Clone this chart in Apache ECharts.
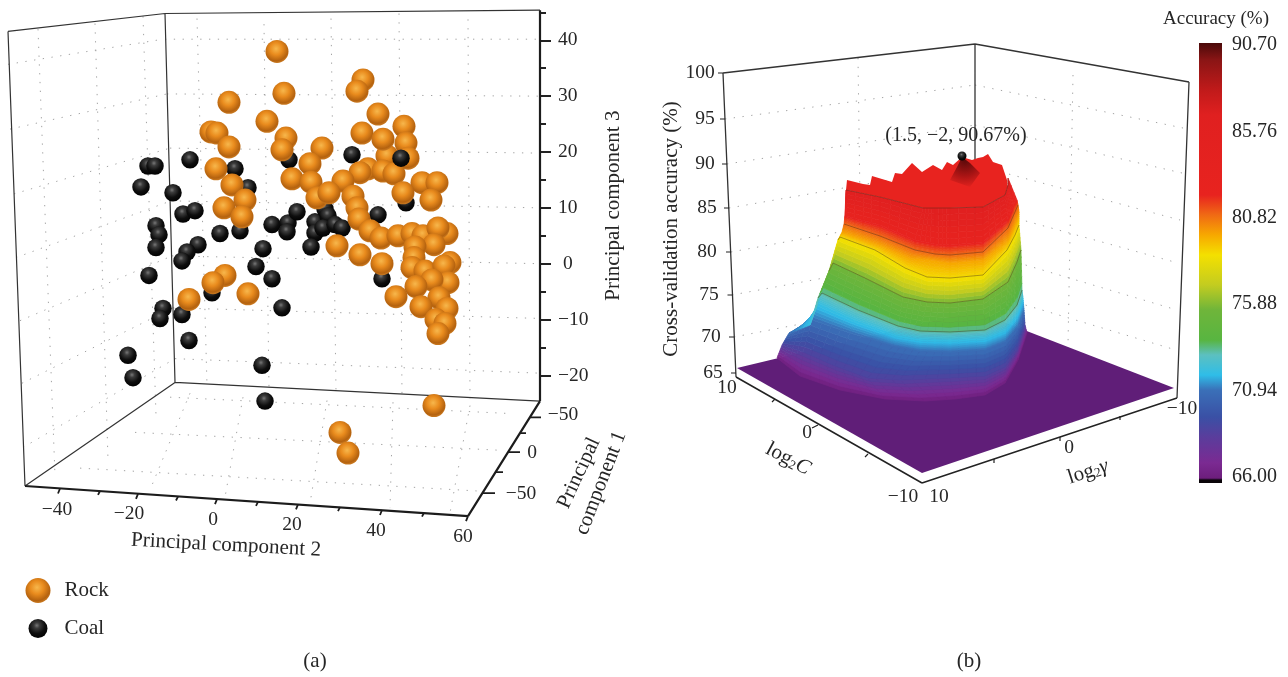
<!DOCTYPE html>
<html><head><meta charset="utf-8">
<style>html,body{margin:0;padding:0;background:#fff}#c{width:1288px;height:677px}</style>
<script src="https://cdn.jsdelivr.net/npm/echarts@6/dist/echarts.min.js"></script>
</head><body><div id="c"></div>
<script>
// ---------- panel (a): projected positions, x in PC2 units on the front edge, y in PC3 units
const rock = [[15,38],[16.75,30.5],[3,28.9],[12.5,25.5],[-1.5,23.6],[0,23.4],[3,20.9],[17.25,22.5],[16.25,20.4],[-0.25,17],[3.75,14.1],[18.75,15.2],[7,11.4],[1.75,10],[6.25,8.4],[2,-2.1],[-1,-3.4],[7.75,-5.4],[-7,-6.4],[26.25,20.7],[23.25,17.9],[23.5,14.6],[36.5,32.9],[35,30.9],[40.25,26.8],[36.25,23.4],[46.75,24.6],[47.25,21.6],[47.75,18.9],[42.5,19.3],[41.5,22.3],[37.75,17],[35.75,16.3],[31.5,14.8],[41.5,16.6],[44.25,16.1],[51.25,14.5],[55,14.5],[53.5,11.4],[46.5,12.7],[25,11.8],[28,12.7],[34,12.1],[35,10],[35.5,8],[38.25,5.9],[41,4.6],[45.25,5],[48.75,5.4],[51.5,5],[58.25,0.2],[57.5,5.4],[55.25,6.4],[54.25,3.4],[49.5,3],[49.25,1.1],[48.75,-0.7],[30,3.2],[35.75,1.6],[41.25,0],[52,-1.3],[56.75,-0.4],[57.75,-3.4],[53.75,-2.9],[49.75,-4.1],[44.75,-5.9],[55.5,-6.1],[51,-7.7],[57.5,-8],[54.75,-10],[57,-10.7],[55.25,-12.5],[54.25,-25.4],[30.75,-30.2],[32.75,-33.9]];
const coal = [[-17.25,17.5],[-15.5,17.5],[-6.75,18.6],[4.5,17],[7.75,13.6],[-19,13.75],[-11,12.7],[-8.5,8.9],[-5.5,9.5],[-15.25,6.8],[-14.5,5.2],[-15.25,2.9],[-4.75,3.4],[-7.5,2.1],[-8.75,0.5],[0.75,5.4],[5.75,5.9],[13.75,7],[17.75,7.3],[17.5,5.7],[20,9.3],[24.5,7.5],[24.5,5.5],[23.5,3],[11.5,2.7],[9.75,-0.5],[13.75,-2.7],[-1.25,-5.2],[-17,-2.1],[16.25,-7.9],[-13.5,-8],[-14.25,-9.8],[-8.75,-9.1],[18,18.6],[-7,-13.75],[-22.25,-16.4],[-21,-20.4],[11.25,-18.2],[12,-24.6],[33.75,19.5],[40.25,8.75],[47.25,10.9],[41.25,-2.7],[27,9.8],[27.75,8.6],[26.5,6.4],[29.5,7],[31.25,6.4]];
const coalFront = [[46,18.9]];

const pc3Ticks = [-20,-10,0,10,20,30,40];
const pc3MinorTicks = [-15,-5,5,15,25,35,45];
const pc2TickLabels = ['−40','−20','0','20','40','60'];
const pc2LabelAnchors = [[-40,-44.1],[-22,-44.8],[-1,-45.9],[18.75,-46.8],[39.75,-47.9],[61.5,-48.9]];
const pc1TickLabels = ['−50','0','−50'];
const pc1LabelAnchors = [[86.5,-27.1],[78.75,-33.9],[76,-41.25]];

const aFrameThin = [[[-52.25,41.6],[-13,44.8]],[[-13,44.8],[80.75,45.4]],[[-52.25,41.6],[-48,-39.8]],[[-13,44.8],[-10.5,-21.25]],[[-10.5,-21.25],[80.75,-24.6]],[[-10.5,-21.25],[-48,-39.8]]];
const aFrameThick = [[[-48,-39.8],[62.75,-45.2]],[[62.75,-45.2],[80.75,-24.6]],[[80.75,-24.6],[80.75,45.4]]];
const aFloorTicks = [[[-39.25,-40.25],[-39.75,-41.15]],[[-29.25,-40.7],[-29.75,-41.4]],[[-19.75,-41.2],[-20.25,-42.1]],[[-9.75,-41.7],[-10.25,-42.4]],[[0,-42.15],[-0.5,-43.05]],[[10.25,-42.65],[9.75,-43.35]],[[20.25,-43.1],[19.75,-44]],[[30.75,-43.6],[30.25,-44.3]],[[41.25,-44.1],[40.75,-45]],[[51.75,-44.6],[51.25,-45.3]],[[62.75,-45.2],[62.25,-46.1]],
 [[66.35,-41.07],[69.5,-41.07]],[[69.6,-37.3],[71.5,-37.3]],[[72.75,-33.75],[75.75,-33.75]],[[75.75,-30.35],[77.25,-30.35]],[[78.25,-27.5],[81,-27.5]]];
const aGrid = [
 [[-13,40.2],[80.75,40.2]],[[-12.5,30.4],[80.75,30]],[[-11.75,20.7],[80.75,19.8]],[[-11.5,11.25],[80.75,10]],[[-11.25,1.4],[80.75,0]],[[-11,-7.9],[80.75,-9.8]],[[-10.5,-17],[80.75,-19.6]],
 [[-5,43.9],[-2.5,-21.8]],[[11.75,42.9],[13,-22.3]],[[28.5,43.9],[29.75,-22.9]],[[45.5,44.8],[46.25,-23.6]],[[62.75,43.75],[63.25,-24.1]],
 [[-44.75,42],[-40.5,-37.9]],[[-30.5,43],[-27.25,-35.2]],[[-18.5,44.3],[-15.25,-27.1]],
 [[-52.25,35.7],[-13.5,40.2]],[[-51.75,24.1],[-12.5,30.4]],[[-50.75,12.5],[-11.75,20.7]],[[-50.25,1.1],[-11.5,11.25]],[[-49.25,-10.2],[-11.25,1.4]],[[-48.75,-21.4],[-11,-7.9]],[[-48.5,-32.9],[-10.5,-17]],
 [[-11.75,-23.9],[72.5,-26.8]],[[-20.5,-30.2],[70.75,-33.4]],[[-34.25,-36.6],[65.25,-40.7]],
 [[-6.75,-23.2],[-16.75,-40.5]],[[6.5,-23.9],[2,-41.8]],[[27.5,-24.5],[23.25,-42.9]],[[44,-24.8],[43.25,-43.75]],[[63.25,-25.4],[58.25,-44.6]]
];

// ---------- panel (b): projected scene units
const accTickLabels = ['100','95','90','85','80','75','70','65'];
const accLabelAnchors = [[-3.6,41],[-3.1,36.4],[-3.1,31.9],[-2.9,27.5],[-2.9,23.1],[-2.7,18.8],[-2.5,14.6],[-2.3,11]];
const floorTickLabels = ['10','0','−10','10','0','−10'];
const floorLabelAnchors = [[-0.9,9.5],[7.1,5],[16.7,-1.4],[20.3,-1.4],[33.3,3.5],[44.6,7.4]];
const bFrame = [[[-1.3,41],[23.9,43.9]],[[23.9,43.9],[45.3,40.1]],[[-1.3,41],[0,10.6]],[[45.3,40.1],[44.1,8.5]],[[23.9,43.9],[23.9,17.2]]];
const bFloorAxes = [[[0,10.6],[18.6,0]],[[18.6,0],[44.1,8.5]]];
const bTicks = [[[-1.8,41],[-1.3,41]],[[-1.6,36.4],[-1.1,36.4]],[[-1.4,31.9],[-0.9,31.9]],[[-1.2,27.5],[-0.7,27.5]],[[-1,23.1],[-0.5,23.1]],[[-0.85,18.8],[-0.35,18.8]],[[-0.7,14.6],[-0.2,14.6]],[[-0.5,11],[0,11]],
 [[8.2,5.8],[7.6,5.5]],[[3.9,8.4],[3.6,8.1]],[[13.2,2.9],[12.9,2.6]],[[32.4,4.6],[32.4,4.2]],[[25.8,2.4],[25.8,2]],[[38.4,6.7],[38.4,6.3]]];
const bGrid = [
 [[-1.1,36.4],[23.9,39.8]],[[-0.9,31.9],[23.9,35.8]],[[-0.7,27.5],[23.9,31.8]],[[-0.5,23.1],[23.9,27.6]],[[-0.4,18.8],[23.9,23.3]],[[-0.2,14.6],[23.9,19.3]],[[12.2,42.5],[12.6,13.8]],
 [[23.9,39.8],[44.7,35.5]],[[23.9,35.8],[44.6,31]],[[23.9,31.8],[44.4,26.3]],[[23.9,27.6],[44.2,22]],[[23.9,23.3],[44.1,17.3]],[[23.9,19.3],[44,13.3]],[[33.7,40.8],[33.2,13.8]]
];
const floorOutline = [[0.1,11.5],[23.9,17.2],[43.8,9.5],[18.6,1]];

// accuracy of each isoline, and where that isoline falls on the projected surface
const surfaceLevels = [66,68.6,70.9,72.06,73.2,75.7,78.8,79.9,81,82.2,86.7];
const surfaceIsolines = [
 [[4.1,12.5],[6.4,10.7],[10.4,9.3],[14.9,8.4],[18.9,8.2],[21.9,8.4],[24.9,8.8],[26.9,10],[28.2,12.3],[29.1,15]],
 [[4.6,13.8],[6.7,13.1],[9.9,11.7],[13.2,10.5],[16.4,10.3],[21.4,10.5],[24.9,10.7],[26.9,11.6],[28.1,13.3],[28.9,15.8]],
 [[5.3,15],[7.6,16.3],[11.4,15],[15.7,13.7],[18.4,13.2],[21.4,13.1],[24.9,13.3],[26.9,14.1],[28.1,15.5],[28.8,17.3]],
 [[7.4,15.8],[8.2,18],[11.9,16.3],[16.1,14.8],[18.4,14.4],[21.4,14.3],[24.9,14.5],[26.9,15.3],[28.1,16.8],[28.7,18.5]],
 [[8.2,18.5],[8.6,19],[12.2,17.3],[16.2,15.7],[18.4,15.2],[21.4,15.1],[24.9,15.3],[26.9,16.3],[28.1,17.8],[28.6,19.3]],
 [[9.3,21.2],[9.7,22],[12.9,20.5],[16.7,18.6],[19.1,18.1],[21.4,18],[24.7,18.4],[27.2,20.1],[28.1,22.1],[28.5,23.3]],
 [[10.2,24.3],[10.4,24.6],[13.9,23.3],[16.9,21.5],[19.1,20.6],[21.4,20.5],[24.7,20.8],[27.1,23.3],[27.9,24.8],[28.3,25.8]],
 [[10.6,25.1],[10.9,25],[14.4,23.8],[17.4,22.5],[19.4,22.3],[21.4,22],[24.7,22.3],[27.2,24.3],[28,26.1],[28.3,27.1]],
 [[10.8,25.9],[11,25.9],[14.4,24.7],[17.9,23.3],[19.9,22.9],[21.4,22.8],[24.7,23.1],[27.2,25.5],[27.9,27.1],[28.2,27.8]],
 [[10.9,26.8],[11,26.7],[14.4,25.8],[17.9,24.3],[19.9,23.9],[21.4,23.8],[24.7,24.1],[27.2,26.3],[27.8,27.8],[28.1,28.3]],
 [[11,29.3],[11.1,29.3],[14.4,28.6],[18.7,27.5],[19.9,27.5],[21.4,27.5],[24.7,27.6],[26.9,28.8],[27.2,29.8],[27.2,30.5]]
];
const contourRows = [4,5,6,8,10];
const crest = [[11.1,30.3],[12.7,29.9],[13.4,29.8],[13.6,30.7],[15.6,30.1],[15.9,31],[16.6,30.9],[17.6,32],[18.6,31.1],[19.7,31.8],[20.6,31.3],[21.1,32.1],[21.7,31.8],[22.6,32.6],[23.6,32.3],[24.2,32.5],[24.7,32.6],[25.2,32.9],[25.7,32.1],[26.6,31.8],[27.1,30.3],[27.2,28.3]];
const peakCap = [[22.6,32.6],[23.4,32],[24.4,31],[23.4,29.6],[21.4,30.3],[22.1,31.6]];
const peakPoint = [[22.6,32.7]];
const peakLabel = '(1.5, −2, 90.67%)';

// colour bar
const colorValues = [65.66,65.83,65.94,66.8,68.29,69.43,70.97,71.83,72.98,73.83,75.55,76.98,78.69,79.84,80.98,82.12,86.7,88.13,89.84,90.81];
const colorHexes = ['#0a0509','#0a0509','#6d1e7c','#7b2a92','#5a3d9c','#3a50a5','#3a70b8','#2fbde8','#5cc0c0','#58b541','#6fb53a','#c3cc20','#f4e000','#f7a800','#f06a14','#e8231f','#e02020','#c01a1a','#8a1515','#4a0a0a'];
const barTicks = [66,70.94,75.88,80.82,85.76,90.7];

// ---------- helpers
const FONT = '"Liberation Serif", serif', INK = '#262626';
const rgb = h => [1,3,5].map(i => parseInt(h.substr(i,2),16));
function colorAt(v){
  let k = 0; while(k < colorValues.length-2 && v > colorValues[k+1]) k++;
  const t = Math.min(1,Math.max(0,(v-colorValues[k])/(colorValues[k+1]-colorValues[k])));
  const a = rgb(colorHexes[k]), b = rgb(colorHexes[k+1]);
  return 'rgb('+a.map((c,i)=>Math.round(c+(b[i]-c)*t)).join(',')+')';
}
const segs = list => { const out=[]; list.forEach((s,i)=>{ if(i) out.push(null); s.forEach(p=>out.push(p)); }); return out; };
const sphere = (x,y,r,stops) => ({type:'radial',x,y,r,colorStops:stops.map(c=>({offset:c[0],color:c[1]}))});
const rockFill = sphere(0.46,0.38,0.64,[[0,'#f7b74c'],[0.42,'#e98b1d'],[0.82,'#b4620f'],[1,'#cf7f24']]);
const coalFill = sphere(0.44,0.34,0.68,[[0,'#777777'],[0.22,'#3c3c3c'],[0.62,'#0e0e0e'],[1,'#000000']]);

function lineSeries(data, gi, style){
  return {type:'line',data:segs(data),xAxisIndex:gi===0?0:1,yAxisIndex:gi===0?0:2,symbol:'none',silent:true,clip:false,connectNulls:false,lineStyle:style,z:style.z||2};
}
function textSeries(items, gi){
  return {type:'scatter',xAxisIndex:gi===0?0:1,yAxisIndex:gi===0?0:2,symbolSize:1,silent:true,clip:false,z:6,itemStyle:{color:'transparent',opacity:1},
    label:{show:true,position:'inside',align:'center',verticalAlign:'middle',color:INK,fontFamily:FONT},
    data:items.map(t=>({value:t.at,label:{formatter:t.text,fontSize:t.size,rotate:t.rotate||0,rich:t.rich}}))};
}
const zip = (labels,anchors,size) => labels.map((t,i)=>({text:t,at:anchors[i],size}));
const mix = (p,q,t) => [p[0]+(q[0]-p[0])*t,p[1]+(q[1]-p[1])*t];

function renderBand(params, api){
  const i = api.value(0), j = api.value(1), R = surfaceIsolines, N = 6, M = 4, kids = [];
  const lo = surfaceLevels[i], hi = surfaceLevels[i+1];
  const at = (a,b) => api.coord(mix(mix(R[i][j],R[i][j+1],b/M),mix(R[i+1][j],R[i+1][j+1],b/M),a/N));
  for(let a=0;a<N;a++){
    const c = colorAt(lo+(hi-lo)*(a+0.5)/N);
    for(let b=0;b<M;b++){
      kids.push({type:'polygon',shape:{points:[at(a,b),at(a,b+1),at(a+1,b+1),at(a+1,b)]},style:{fill:c,stroke:c,lineWidth:0.7}});
    }
  }
  return {type:'group',children:kids};
}
function polySeries(points, fill, z){
  return {type:'custom',xAxisIndex:1,yAxisIndex:2,silent:true,clip:false,z:z,data:[[0,0]],
    renderItem:(p,api)=>({type:'polygon',shape:{points:points.map(q=>api.coord(q))},style:{fill}})};
}
const bandCells = [];
for(let i=0;i<surfaceIsolines.length-1;i++) for(let j=0;j<surfaceIsolines[0].length-1;j++) bandCells.push([i,j]);

const barStops = colorValues.map((v,i)=>({offset:(90.81-v)/(90.81-65.66),color:colorHexes[i]})).reverse();
const captionStyle = {fontFamily:FONT,fontSize:21,fontWeight:'normal',color:INK};
const logRich = {n:{fontSize:21,fontFamily:FONT,color:INK},s:{fontSize:13,fontFamily:FONT,color:INK,verticalAlign:'bottom',padding:[7,0,0,0]},i:{fontSize:21,fontFamily:FONT,fontStyle:'italic',color:INK}};
const dots = {color:'#a3a3a3',width:1,type:[1.3,7.5]};

const option = {
  animation:false, backgroundColor:'#fff',
  textStyle:{fontFamily:FONT,color:INK},
  title:[
    {text:'(a)',left:315,top:651,textAlign:'center',padding:0,textStyle:captionStyle},
    {text:'(b)',left:969,top:651,textAlign:'center',padding:0,textStyle:captionStyle},
    {text:'Accuracy (%)',left:1216,top:10,textAlign:'center',padding:0,textStyle:{fontFamily:FONT,fontSize:19,fontWeight:'normal',color:INK}}
  ],
  legend:[
    {data:['Rock'],left:25.5,top:578,orient:'vertical',itemWidth:25,itemHeight:25,padding:0,selectedMode:false,icon:'circle',
     textStyle:{fontFamily:FONT,fontSize:21,color:INK,padding:[0,0,9,9]}},
    {data:['Coal'],left:28.5,top:618,orient:'vertical',itemWidth:19,itemHeight:19,padding:0,selectedMode:false,icon:'circle',
     textStyle:{fontFamily:FONT,fontSize:21,color:INK,padding:[0,0,9,12]}}
  ],
  grid:[
    {left:1,top:5.4,width:539,height:672},
    {left:636,top:33,width:560,height:550},
    {left:1199,top:43,width:23,height:440}
  ],
  xAxis:[
    {gridIndex:0,type:'value',min:-54,max:80.75,show:false},
    {gridIndex:1,type:'value',min:-10,max:46,show:false},
    {gridIndex:2,type:'category',data:['Accuracy'],show:false}
  ],
  yAxis:[
    {gridIndex:0,type:'value',min:-74,max:46.25,position:'right',splitLine:{show:false},axisLine:{show:false,onZero:false},
     axisTick:{show:true,customValues:pc3Ticks,length:11,lineStyle:{color:'#222',width:2}},
     axisLabel:{show:true,customValues:pc3Ticks,margin:18,fontFamily:FONT,fontSize:19.5,color:INK,
       formatter:v=>v<0?'−'+(-v):(v===0?'\u2005'+v:''+v)}},
    {gridIndex:0,type:'value',min:-74,max:46.25,position:'right',splitLine:{show:false},axisLine:{show:false,onZero:false},
     axisTick:{show:true,customValues:pc3MinorTicks,length:6,lineStyle:{color:'#222',width:2}},
     axisLabel:{show:false}},
    {gridIndex:1,type:'value',min:-10,max:45,show:false},
    {gridIndex:2,type:'value',min:65.66,max:90.81,position:'right',splitLine:{show:false},axisLine:{show:false,onZero:false},axisTick:{show:false},
     axisLabel:{show:true,customValues:barTicks,margin:10,fontFamily:FONT,fontSize:20,color:INK,formatter:v=>v.toFixed(2)}}
  ],
  series:[
    // panel (a)
    lineSeries(aGrid,0,dots),
    lineSeries(aFrameThin,0,{color:'#333',width:1.2}),
    lineSeries(aFrameThick,0,{color:'#1c1c1c',width:2.2}),
    lineSeries(aFloorTicks,0,{color:'#1c1c1c',width:1.8}),
    {name:'Coal',type:'scatter',data:coal,xAxisIndex:0,yAxisIndex:0,symbol:'circle',symbolSize:17.5,itemStyle:{color:coalFill,opacity:1},silent:true,z:3},
    {name:'Rock',type:'scatter',data:rock,xAxisIndex:0,yAxisIndex:0,symbol:'circle',symbolSize:23,itemStyle:{color:rockFill,opacity:1},silent:true,z:4},
    {name:'Coal',type:'scatter',data:coalFront,xAxisIndex:0,yAxisIndex:0,symbol:'circle',symbolSize:17.5,itemStyle:{color:coalFill,opacity:1},silent:true,z:5},
    textSeries(zip(pc2TickLabels,pc2LabelAnchors,19.5).concat(zip(pc1TickLabels,pc1LabelAnchors,19.5),[
      {text:'Principal component 2',at:[2.25,-50.4],size:21,rotate:-3},
      {text:'Principal component 3',at:[99,10.4],size:21,rotate:90},
      {text:'Principal',at:[90.5,-37.5],size:21,rotate:65},
      {text:'component 1',at:[96,-39.3],size:21,rotate:69}
    ]),0),
    // panel (b)
    lineSeries(bGrid,1,dots),
    lineSeries(bFrame,1,{color:'#333',width:1.3}),
    polySeries(floorOutline,'#601e78',3),
    {type:'custom',xAxisIndex:1,yAxisIndex:2,silent:true,clip:false,z:4,data:bandCells,encode:{x:0,y:1},renderItem:renderBand},
    polySeries(crest.concat(surfaceIsolines[10].slice().reverse()),'#e8231f',4),
    polySeries(peakCap,{type:'radial',x:0.5,y:0.1,r:0.95,colorStops:[{offset:0,color:'#5a0a0a'},{offset:0.55,color:'#a81414'},{offset:1,color:'#e8231f'}]},5),
    lineSeries(contourRows.map(r=>surfaceIsolines[r]),1,{color:'#3d2a1a',width:0.8,opacity:0.5,z:5}),
    lineSeries(bFloorAxes,1,{color:'#222',width:1.5,z:5}),
    lineSeries(bTicks,1,{color:'#222',width:1.2,z:5}),
    {type:'scatter',data:peakPoint,xAxisIndex:1,yAxisIndex:2,symbol:'circle',symbolSize:9,itemStyle:{color:coalFill,opacity:1},silent:true,z:6},
    textSeries(zip(accTickLabels,accLabelAnchors,19.5).concat(zip(floorTickLabels,floorLabelAnchors,19.5),[
      {text:'Cross-validation accuracy (%)',at:[-6.5,25.4],size:21,rotate:90},
      {text:peakLabel,at:[22,34.7],size:20},
      {text:'{n|log}{s|2}{i|C}',at:[5.2,2.4],size:21,rotate:-28,rich:logRich},
      {text:'{n|log}{s|2}{i|γ}',at:[35.2,1.1],size:21,rotate:18,rich:logRich}
    ]),1),
    // colour bar
    {type:'bar',data:[90.81],xAxisIndex:2,yAxisIndex:3,barWidth:'100%',silent:true,
     itemStyle:{color:{type:'linear',x:0,y:0,x2:0,y2:1,colorStops:barStops}}}
  ]
};
const chart = echarts.init(document.getElementById('c'),null,{renderer:'canvas'});
chart.setOption(option);
</script></body></html>
